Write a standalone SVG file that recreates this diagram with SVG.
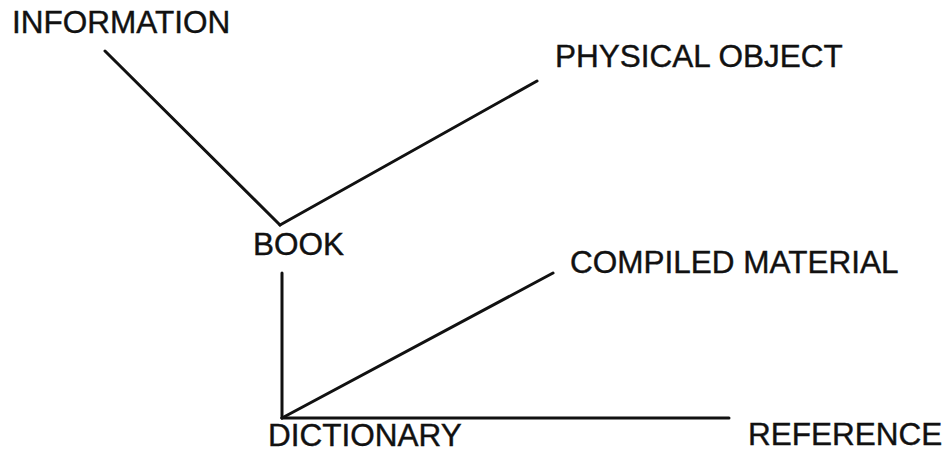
<svg xmlns="http://www.w3.org/2000/svg" width="944" height="453" viewBox="0 0 944 453">
<style>
text{font-family:"Liberation Sans",Arial,sans-serif;font-size:31.5px;fill:#111;stroke:#111;stroke-width:0.4}
.c line{stroke:#111;stroke-width:3;stroke-linecap:round}
</style>
<rect width="944" height="453" fill="#fff"/>
<g id="information"><text x="12" y="33">INFORMATION</text></g>
<g id="physical-object"><text x="555" y="67">PHYSICAL OBJECT</text></g>
<g id="book"><text x="253" y="255">BOOK</text></g>
<g id="compiled-material"><text x="570" y="273">COMPILED MATERIAL</text></g>
<g id="dictionary"><text x="268" y="446">DICTIONARY</text></g>
<g id="reference"><text x="748" y="445">REFERENCE</text></g>
<g class="c" id="connectors">
<line x1="105" y1="51" x2="280" y2="225"/>
<line x1="280" y1="225" x2="537" y2="81"/>
<line x1="282" y1="273" x2="282" y2="418"/>
<line x1="282" y1="418" x2="729" y2="418"/>
<line x1="282" y1="418" x2="553" y2="273"/>
</g>
</svg>
